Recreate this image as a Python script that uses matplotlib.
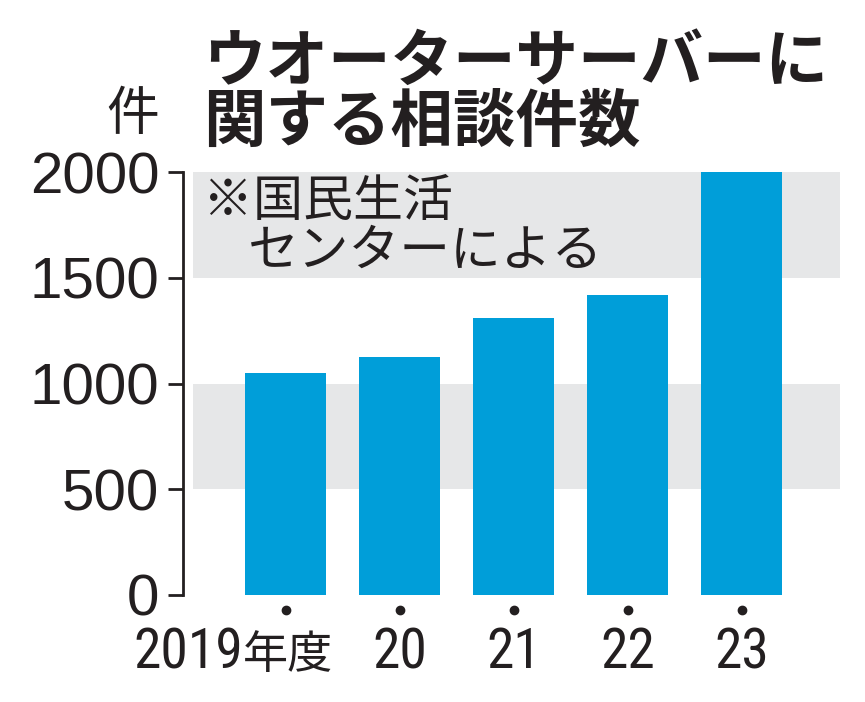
import matplotlib
matplotlib.use('Agg')
import matplotlib.pyplot as plt
import matplotlib.transforms as mtransforms

# データ（国民生活センター）
years = ['2019', '20', '21', '22', '23']
year_unit = '年度'
counts = [1050, 1125, 1310, 1420, 2000]
yticks = [0, 500, 1000, 1500, 2000]

BLUE = '#009ed9'
GRAY = '#e6e7e8'
INK = '#231f20'
JP = ['Noto Sans CJK JP', 'DejaVu Sans']
NUM_X = ['Roboto Condensed', 'Noto Sans CJK JP']

W, H = 865, 702
fig = plt.figure(figsize=(W / 100, H / 100), dpi=100)
ax = fig.add_axes([183 / W, 1 - 595 / H, (840 - 183) / W, (595 - 172) / H])


def fx(px):
    return px / W


def fy(py):
    return 1 - py / H


# 背景の帯
ax.axhspan(500, 1000, xmin=0.015, xmax=1, color=GRAY, lw=0, zorder=0)
ax.axhspan(1500, 2000, xmin=0.015, xmax=1, color=GRAY, lw=0, zorder=0)

x = list(range(len(years)))
ax.bar(x, counts, width=0.71, color=BLUE, zorder=2)

ax.set_xlim(-0.9, 4.86)
ax.set_ylim(0, 2000)
ax.set_yticks(yticks)
ax.set_yticklabels([str(v) for v in yticks], family=['Liberation Sans', 'DejaVu Sans'],
                   fontsize=42, color=INK)
ax.tick_params(axis='y', length=11, width=2, pad=6, color=INK)
ax.set_xticks([])
for s in ['top', 'right', 'bottom']:
    ax.spines[s].set_visible(False)
ax.spines['left'].set_linewidth(2)
ax.spines['left'].set_color(INK)

# x軸ラベル（点つき）
trans = mtransforms.blended_transform_factory(ax.transData, ax.transAxes)
ax.plot(x, [-0.035] * len(x), 'o', ms=6, color=INK, transform=trans, clip_on=False)
base = -0.1726
ax.text(-0.374, base, years[0], transform=trans, ha='right', va='baseline',
        family=NUM_X, fontsize=40, color=INK)
ax.text(-0.374, base, year_unit, transform=trans, ha='left', va='baseline',
        family=JP, fontsize=32.5, color=INK)
for i in x[1:]:
    ax.text(i, base, years[i], transform=trans, ha='center', va='baseline',
            family=NUM_X, fontsize=40, color=INK)

# タイトル
fig.text(fx(203), fy(62), 'ウオーターサーバーに', family=JP, fontsize=45,
         fontweight='bold', color=INK, ha='left', va='center')
fig.text(fx(203), fy(122), '関する相談件数', family=JP, fontsize=45,
         fontweight='bold', color=INK, ha='left', va='center')
fig.text(fx(133), fy(115), '件', family=JP, fontsize=38, color=INK, ha='center', va='center')

# 注記
fig.text(fx(203), fy(202), '※国民生活', family=JP, fontsize=36, color=INK,
         ha='left', va='center', zorder=5)
fig.text(fx(248), fy(252), 'センターによる', family=JP, fontsize=36.5, color=INK,
         ha='left', va='center', zorder=5)

fig.savefig('out.png', dpi=100)
